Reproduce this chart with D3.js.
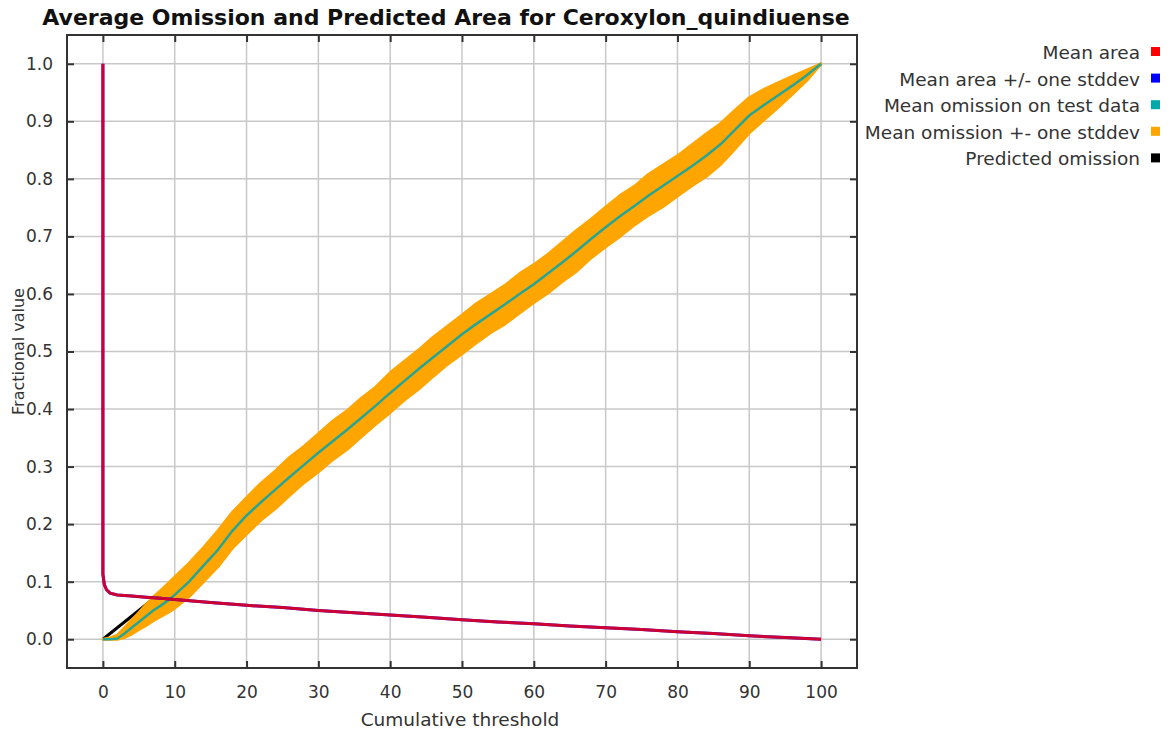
<!DOCTYPE html>
<html>
<head>
<meta charset="utf-8">
<script src="https://cdn.jsdelivr.net/npm/d3@7"></script>
<style>
  body { margin: 0; background: #fff; }
  svg { display: block; font-family: "DejaVu Sans", sans-serif; }
</style>
</head>
<body>
<div id="drawing"></div>
<script>

// ---- data ----
var xTicks = [0, 10, 20, 30, 40, 50, 60, 70, 80, 90, 100];
var yTicks = [0, 0.1, 0.2, 0.3, 0.4, 0.5, 0.6, 0.7, 0.8, 0.9, 1.0];

var omX = [0, 1, 2, 3, 4, 5, 6, 7, 8, 9, 10,
  12, 14, 16, 18, 20, 22, 24, 26, 28, 30,
  32, 34, 36, 38, 40, 42, 44, 46, 48, 50,
  52, 54, 56, 58, 60, 62, 64, 66, 68, 70,
  72, 74, 76, 78, 80, 82, 84, 86, 88, 90,
  92, 94, 96, 98, 100];
var omMean = [0, 0, 0.001, 0.01, 0.02, 0.03, 0.04, 0.05, 0.058, 0.067, 0.077,
  0.1, 0.128, 0.155, 0.188, 0.215, 0.238, 0.26, 0.282, 0.303, 0.324,
  0.344, 0.364, 0.385, 0.406, 0.428, 0.449, 0.47, 0.49, 0.51, 0.53,
  0.548, 0.565, 0.582, 0.6, 0.617, 0.636, 0.655, 0.675, 0.696, 0.716,
  0.735, 0.753, 0.771, 0.788, 0.805, 0.822, 0.84, 0.86, 0.885, 0.91,
  0.928, 0.945, 0.962, 0.98, 1.0];
// mean + one stddev and mean - one stddev (as offsets from the mean)
var omUpper = [0, 0.002, 0.006, 0.01, 0.013, 0.016, 0.02, 0.023, 0.026, 0.029, 0.031,
  0.032, 0.031, 0.033, 0.032, 0.031, 0.033, 0.032, 0.034, 0.032, 0.033,
  0.035, 0.033, 0.034, 0.032, 0.035, 0.034, 0.033, 0.035, 0.034, 0.033,
  0.035, 0.034, 0.033, 0.035, 0.034, 0.033, 0.035, 0.036, 0.034, 0.035,
  0.036, 0.034, 0.037, 0.036, 0.035, 0.037, 0.038, 0.036, 0.034, 0.031,
  0.027, 0.022, 0.016, 0.009, 0];
var omLower = [0, 0, 0.001, 0.007, 0.011, 0.013, 0.016, 0.018, 0.019, 0.021, 0.023,
  0.026, 0.028, 0.029, 0.03, 0.032, 0.031, 0.033, 0.032, 0.031, 0.033,
  0.032, 0.034, 0.033, 0.032, 0.034, 0.033, 0.035, 0.033, 0.032, 0.034,
  0.033, 0.032, 0.034, 0.033, 0.032, 0.034, 0.033, 0.035, 0.033, 0.034,
  0.035, 0.033, 0.034, 0.036, 0.035, 0.034, 0.036, 0.035, 0.033, 0.03,
  0.026, 0.021, 0.015, 0.009, 0];

var areaX = [0, 0, 0.2, 0.5, 1, 2, 4, 6, 8, 10, 15, 20, 25, 30, 35, 40, 45, 50,
  55, 60, 65, 70, 75, 80, 85, 90, 95, 100];
var areaMean = [1.0, 0.113, 0.095, 0.086, 0.08, 0.077, 0.075, 0.073, 0.071, 0.069,
  0.064, 0.059, 0.055, 0.05, 0.046, 0.042, 0.038, 0.034, 0.03, 0.027, 0.023,
  0.02, 0.017, 0.013, 0.01, 0.006, 0.003, 0];

var predX = [0, 100];
var predY = [0, 1];

var legendLabels = ["Mean area", "Mean area +/- one stddev", "Mean omission on test data",
  "Mean omission +- one stddev", "Predicted omission"];
var legendColors = ["#ff0000", "#0000ff", "#00aaaa", "#ffa500", "#000000"];

// ---- layout ----
var W = 1169, H = 732;
var plot = { left: 67, right: 857, top: 35, bottom: 668 };

var svg = d3.select("#drawing").append("svg").attr("width", W).attr("height", H);

var x = d3.scaleLinear().domain([-5, 105]).range([plot.left, plot.right]);
var y = d3.scaleLinear().domain([-0.05, 1.05]).range([plot.bottom, plot.top]);

// grid
var grid = svg.append("g").attr("stroke", "#c8c8c8").attr("stroke-width", 1.5);
grid.selectAll(".gx").data(xTicks).enter().append("line")
  .attr("x1", d => x(d)).attr("x2", d => x(d))
  .attr("y1", plot.top).attr("y2", plot.bottom);
grid.selectAll(".gy").data(yTicks).enter().append("line")
  .attr("y1", d => y(d)).attr("y2", d => y(d))
  .attr("x1", plot.left).attr("x2", plot.right);

// curves
var line = d3.line().x(d => x(d[0])).y(d => y(d[1]));

svg.append("path")
  .attr("d", line(predX.map((d, i) => [d, predY[i]])))
  .attr("fill", "none").attr("stroke", "#000").attr("stroke-width", 3);

var band = omX.map((d, i) => ({ x: d, lo: omMean[i] - omLower[i], hi: omMean[i] + omUpper[i] }));
var area = d3.area().x(d => x(d.x)).y0(d => y(Math.max(d.lo, 0))).y1(d => y(d.hi));
svg.append("path")
  .attr("d", area(band))
  .attr("fill", "#ffa500").attr("stroke", "#ffa500").attr("stroke-width", 3)
  .attr("stroke-linejoin", "round");

svg.append("path")
  .attr("d", line(omX.map((d, i) => [d, omMean[i]])))
  .attr("fill", "none").attr("stroke", "#26a595").attr("stroke-width", 2.5);

var areaPts = areaX.map((d, i) => [d, areaMean[i]]);
svg.append("path")
  .attr("d", line(areaPts))
  .attr("fill", "none").attr("stroke", "#0000ff").attr("stroke-width", 3);
svg.append("path")
  .attr("d", line(areaPts))
  .attr("fill", "none").attr("stroke", "#ff0000").attr("stroke-opacity", 0.8)
  .attr("stroke-width", 3);

// frame and inward ticks
svg.append("rect")
  .attr("x", plot.left).attr("y", plot.top)
  .attr("width", plot.right - plot.left).attr("height", plot.bottom - plot.top)
  .attr("fill", "none").attr("stroke", "#333").attr("stroke-width", 2);

var axB = d3.axisBottom(x).tickValues(xTicks).tickSize(-7).tickPadding(18).tickFormat(d3.format("d"));
var axT = d3.axisTop(x).tickValues(xTicks).tickSize(-7).tickFormat("");
var axL = d3.axisLeft(y).tickValues(yTicks).tickSize(-7).tickPadding(14).tickFormat(d3.format(".1f"));
var axR = d3.axisRight(y).tickValues(yTicks).tickSize(-7).tickFormat("");

function styleAxis(g) {
  g.select(".domain").remove();
  g.selectAll(".tick line").attr("stroke", "#333").attr("stroke-width", 2);
  g.selectAll(".tick text").attr("fill", "#333").style("font-size", "17px")
    .style("font-family", "'DejaVu Sans', sans-serif");
}
svg.append("g").attr("transform", "translate(0," + plot.bottom + ")").call(axB).call(styleAxis);
svg.append("g").attr("transform", "translate(0," + plot.top + ")").call(axT).call(styleAxis);
svg.append("g").attr("transform", "translate(" + plot.left + ",0)").call(axL).call(styleAxis);
svg.append("g").attr("transform", "translate(" + plot.right + ",0)").call(axR).call(styleAxis);

// titles
svg.append("text")
  .attr("x", 446).attr("y", 25)
  .attr("text-anchor", "middle")
  .style("font-size", "22px").style("font-weight", "bold").attr("fill", "#111")
  .text("Average Omission and Predicted Area for Ceroxylon_quindiuense");

svg.append("text")
  .attr("x", 460).attr("y", 726)
  .attr("text-anchor", "middle")
  .style("font-size", "18.5px").attr("fill", "#333")
  .text("Cumulative threshold");

svg.append("text")
  .attr("transform", "translate(24," + ((plot.top + plot.bottom) / 2) + ") rotate(-90)")
  .attr("text-anchor", "middle")
  .style("font-size", "16px").attr("fill", "#333")
  .text("Fractional value");

// legend
var leg = svg.append("g").selectAll("g").data(legendLabels).enter().append("g")
  .attr("transform", (d, i) => "translate(0," + (52 + i * 26.6) + ")");
leg.append("text")
  .attr("x", 1140).attr("y", 7)
  .attr("text-anchor", "end")
  .style("font-size", "18.5px").attr("fill", "#333")
  .text(d => d);
leg.append("rect")
  .attr("x", 1151).attr("y", -5).attr("width", 9).attr("height", 9)
  .attr("fill", (d, i) => legendColors[i]);

</script>
</body>
</html>
